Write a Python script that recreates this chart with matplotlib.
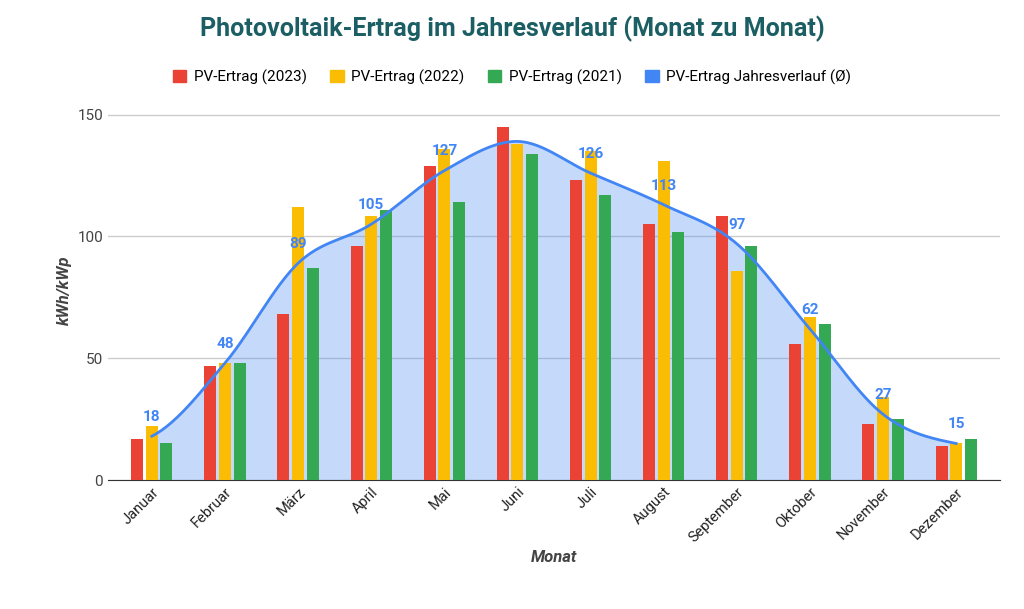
import matplotlib
matplotlib.use("Agg")
import matplotlib.pyplot as plt
import numpy as np

months = ["Januar","Februar","März","April","Mai","Juni","Juli","August","September","Oktober","November","Dezember"]
y2023 = [17,47,68,96,129,145,123,105,108.5,56,23,14]
y2022 = [22,48,112,108.5,136,138,135,131,86,67,34,15]
y2021 = [15,48,87,111,114,134,117,102,96,64,25,17]
avg = [18,48,89,105,127,139,126,113,97,62,27,15]
avg_labels = ["18","48","89","105","127","","126","113","97","62","27","15"]

plt.rcParams['font.family'] = ['Roboto','DejaVu Sans']
fig = plt.figure(figsize=(10.24,6.09), dpi=100)
ax = fig.add_axes([108/1024, 1-480/609, 892/1024, 380/609])
x = np.arange(len(months))
w = 0.2
cols = ["#EA4335","#FBBC04","#34A853"]
for i,(d,lab) in enumerate(zip([y2023,y2022,y2021],["PV-Ertrag (2023)","PV-Ertrag (2022)","PV-Ertrag (2021)"])):
    ax.bar(x+(i-1)*w, d, w*0.82, color=cols[i], label=lab, zorder=3)

# Catmull-Rom smoothing of the average line
pts = np.array(avg, float)
xs, ys = [], []
P = np.concatenate([[pts[0]], pts, [pts[-1]]])
for k in range(len(pts)-1):
    p0,p1,p2,p3 = P[k],P[k+1],P[k+2],P[k+3]
    t = np.linspace(0,1,30)
    yy = 0.5*((2*p1)+(-p0+p2)*t+(2*p0-5*p1+4*p2-p3)*t**2+(-p0+3*p1-3*p2+p3)*t**3)
    xs.extend(k+t); ys.extend(yy)
ax.fill_between(xs, ys, 0, color="#4285F4", alpha=0.3, zorder=2, lw=0)
ax.plot(xs, ys, color="#4285F4", lw=2, zorder=4, label="PV-Ertrag Jahresverlauf (Ø)")
for xi, yi, l in zip(x, avg, avg_labels):
    if l:
        ax.text(xi, yi+5, l, ha='center', va='bottom', color="#4285F4", fontsize=11, fontweight='bold', zorder=5)

ax.set_ylim(0,156)
ax.set_xlim(-0.6, 11.6)
ax.set_yticks([0,50,100,150])
ax.grid(axis='y', color='#cccccc', lw=1, zorder=0)
for s in ['top','right','left']:
    ax.spines[s].set_visible(False)
ax.spines['bottom'].set_color('#333333')
ax.tick_params(axis='y', length=0, labelsize=11, colors='#444444')
ax.tick_params(axis='x', length=0, labelsize=10.5, colors='#222222')
ax.set_xticks(x)
ax.set_xticklabels(months, rotation=45, ha='right', rotation_mode='anchor')
ax.set_ylabel("kWh/kWp", fontsize=12, fontstyle='italic', fontweight='bold', color='#444444')
ax.set_xlabel("Monat", fontsize=12, fontstyle='italic', fontweight='bold', color='#444444')
fig.text(0.5, 0.94, "Photovoltaik-Ertrag im Jahresverlauf (Monat zu Monat)", ha='center', fontsize=18, fontweight='bold', color='#1b5e63')
h,l = ax.get_legend_handles_labels()
from matplotlib.patches import Patch
handles = [Patch(color=c) for c in cols] + [Patch(color="#4285F4")]
fig.legend(handles, ["PV-Ertrag (2023)","PV-Ertrag (2022)","PV-Ertrag (2021)","PV-Ertrag Jahresverlauf (Ø)"],
           loc='center', bbox_to_anchor=(0.5, 1-77/609), ncol=4, frameon=False, fontsize=11,
           handlelength=0.9, handleheight=0.9, columnspacing=1.5, handletextpad=0.5)
fig.savefig("out.png", dpi=100)
